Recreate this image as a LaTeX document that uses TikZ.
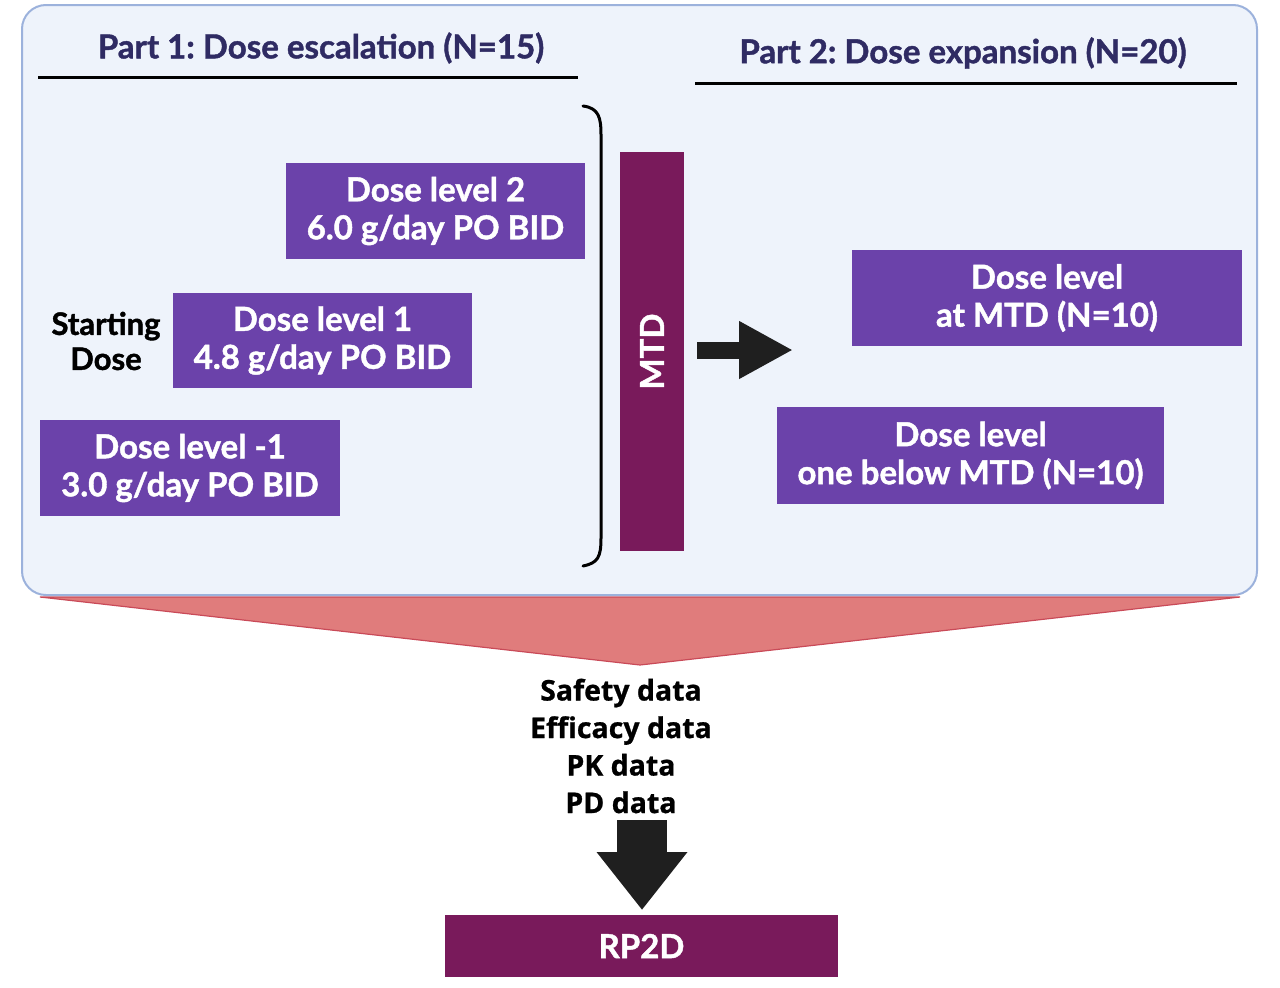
\documentclass[tikz,border=0pt]{standalone}
\usepackage{fontspec}
\setmainfont{Lato}[BoldFeatures={FakeBold=1.3}]
\newfontfamily\datafont{Open Sans}[BoldFeatures={FakeBold=0.8}]
\usepackage{tikz}
\usepackage{xcolor}
\usetikzlibrary{arrows.meta}
\frenchspacing

\definecolor{panelfill}{HTML}{EEF3FB}
\definecolor{paneldraw}{HTML}{9CB2DC}
\definecolor{dosepurple}{HTML}{6B42AA}
\definecolor{mtdplum}{HTML}{791A5B}
\definecolor{funnelred}{HTML}{E07C7C}
\definecolor{funneledge}{HTML}{C94A58}
\definecolor{titlenavy}{HTML}{2F2B63}

\begin{document}
\begin{tikzpicture}[x=1pt,y=-1pt,
		dosebox/.style={fill=dosepurple,text=white,align=center,inner sep=0pt,font=\bfseries\fontsize{33}{38}\selectfont},
		plumbox/.style={fill=mtdplum,text=white,align=center,inner sep=0pt,font=\bfseries\fontsize{33}{38}\selectfont},
		parttitle/.style={text=titlenavy,font=\bfseries\fontsize{33}{40}\selectfont},
		bigarrow/.style={draw=black!88,line width=#1}]
		\useasboundingbox (0,0) rectangle (1280,988);
		% funnel and panel
		\filldraw[fill=funnelred,draw=funneledge,line width=1.2pt] (40,597)--(1240,597)--(640,665)--cycle;
		\filldraw[fill=panelfill,draw=paneldraw,line width=2pt,rounded corners=24pt] (22,5) rectangle (1257,595);
		% titles
		\node[parttitle] (partOne) at (321,48) {Part 1: Dose escalation (N=15)};
		\node[parttitle] (partTwo) at (963,53) {Part 2: Dose expansion (N=20)};
		\draw[line width=3pt] (38,77)--(578,77);
		\draw[line width=3pt] (695,83)--(1237,83);
		% dose levels
		\node[dosebox,minimum width=299pt,minimum height=96pt] (dlTwo) at (435.5,211) {Dose level 2\\6.0 g/day PO BID};
		\node[dosebox,minimum width=299pt,minimum height=95pt] (dlOne) at (322.5,340.5) {Dose level 1\\4.8 g/day PO BID};
		\node[dosebox,minimum width=300pt,minimum height=96pt] (dlMinus) at (190,468) {Dose level -1\\3.0 g/day PO BID};
		\node[align=center,font=\bfseries\fontsize{31}{35}\selectfont] (startLbl) at (106,341) {Starting\\Dose};
		% bracket
		\draw[line width=3pt,line cap=round] (583,106) .. controls (599,108) and (601,118) .. (601,135) -- (601,538) .. controls (601,557) and (598,563) .. (583,566);
		\node[plumbox,minimum width=64pt,minimum height=399pt] (mtdBar) at (652,351.5) {\rotatebox{90}{MTD}};
		\coordinate (rs) at (697,350);
		\coordinate (re) at (793,350);
		\draw[bigarrow=17pt,-{Triangle[width=54pt,length=54pt]}] (rs)--(re);
		% expansion
		\node[dosebox,minimum width=390pt,minimum height=96pt] (atMtd) at (1047,298) {Dose level\\at MTD (N=10)};
		\node[dosebox,minimum width=387pt,minimum height=97pt] (belowMtd) at (970.5,455.5) {Dose level\\one below MTD (N=10)};
		% data and RP2D
		\node[align=center,font=\datafont\bfseries\fontsize{28.5}{37.5}\selectfont] (dataLbl) at (621,746) {Safety data\\Efficacy data\\PK data\\PD data};
		\node[plumbox,minimum width=393pt,minimum height=62pt] (rpTwoD) at (641.5,946) {RP2D};
		\coordinate (ds) at (642,820);
		\coordinate (de) at (642,910);
		\draw[bigarrow=50pt,-{Triangle[width=87pt,length=58pt]}] (ds)--(de);
	\end{tikzpicture}
\end{document}
